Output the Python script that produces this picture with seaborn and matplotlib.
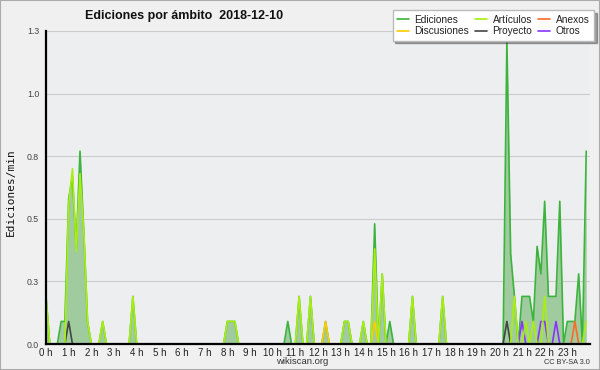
import numpy as np
import pandas as pd
import matplotlib
matplotlib.use("Agg")
import matplotlib.pyplot as plt
from matplotlib.patches import Rectangle
from matplotlib.lines import Line2D
import seaborn as sns

# 10-minute bins over the day (144 bins), values in edits/min
n_bins = 144

# non-zero bins: (bin index, edits/min)
ediciones_bins = [0, 4, 5, 6, 7, 8, 9, 10, 11, 15, 23, 48, 49, 50, 64, 67, 70, 74, 79, 80,
                  84, 87, 89, 91, 97, 105, 122, 123, 124, 126, 127, 128, 129, 130, 131,
                  132, 133, 134, 135, 136, 138, 139, 140, 141, 143]
ediciones_vals = [0.19, 0.09, 0.09, 0.58, 0.67, 0.38, 0.77, 0.45, 0.09, 0.09, 0.19, 0.09,
                  0.09, 0.09, 0.09, 0.19, 0.19, 0.09, 0.09, 0.09, 0.09, 0.48, 0.28, 0.09,
                  0.19, 0.19, 1.21, 0.36, 0.19, 0.19, 0.19, 0.19, 0.09, 0.39, 0.28, 0.57,
                  0.19, 0.19, 0.19, 0.57, 0.09, 0.09, 0.09, 0.28, 0.77]

articulos_bins = [0, 6, 7, 8, 9, 10, 11, 15, 23, 48, 49, 50, 67, 70, 79, 80, 84, 87, 89,
                  97, 105, 124, 127, 129, 132, 143]
articulos_vals = [0.19, 0.56, 0.70, 0.37, 0.68, 0.45, 0.09, 0.09, 0.19, 0.09, 0.09, 0.09,
                  0.19, 0.19, 0.09, 0.09, 0.09, 0.38, 0.28, 0.19, 0.19, 0.19, 0.09, 0.09,
                  0.19, 0.09]

anexos_bins = [140]
anexos_vals = [0.09]

discusiones_bins = [74, 87]
discusiones_vals = [0.09, 0.09]

proyecto_bins = [6, 122]
proyecto_vals = [0.09, 0.09]

otros_bins = [126, 131, 132, 135]
otros_vals = [0.09, 0.09, 0.09, 0.09]

y_ticks = [0.0, 0.25, 0.5, 0.75, 1.0, 1.25]
y_tick_labels = ["0.0", "0.3", "0.5", "0.8", "1.0", "1.3"]
x_tick_labels = [f"{h} h" for h in range(24)]


def series(bins, vals):
    s = np.zeros(n_bins)
    s[bins] = vals
    return s


hours = np.arange(n_bins) / 6.0
df = pd.DataFrame({
    "hora": hours,
    "Ediciones": series(ediciones_bins, ediciones_vals),
    "Artículos": series(articulos_bins, articulos_vals),
    "Anexos": series(anexos_bins, anexos_vals),
    "Discusiones": series(discusiones_bins, discusiones_vals),
    "Proyecto": series(proyecto_bins, proyecto_vals),
    "Otros": series(otros_bins, otros_vals),
})

colors = {
    "Ediciones": "#3cb43c",
    "Artículos": "#aaee11",
    "Anexos": "#ff6a26",
    "Discusiones": "#ffcc00",
    "Proyecto": "#444444",
    "Otros": "#8a33ff",
}

sns.set_style("white")
plt.rcParams["font.family"] = ["Liberation Sans", "DejaVu Sans"]

fig = plt.figure(figsize=(6, 3.7), dpi=100, facecolor="#f0f0f0")
# pixel-aligned axes box: x 46..590, y 31..344 (from top)
ax = fig.add_axes([46 / 600, 26 / 370, 544 / 600, 313 / 370])
ax.set_facecolor("#eceef0")

# filled area for the total
ax.fill_between(df["hora"], df["Ediciones"], color="#9fcb9f", lw=0, zorder=1)
sns.lineplot(data=df, x="hora", y="Ediciones", color=colors["Ediciones"], lw=1.2, ax=ax, zorder=3)
for name in ["Proyecto", "Otros", "Anexos", "Discusiones", "Artículos"]:
    sns.lineplot(data=df, x="hora", y=name, color=colors[name], lw=1.2, ax=ax, zorder=4)

ax.set_xlim(0, 24)
ax.set_ylim(0, 1.25)
ax.set_xlabel("")
ax.set_ylabel("")

ax.set_yticks(y_ticks)
ax.set_yticklabels(y_tick_labels)
ax.set_yticks(np.arange(0, 1.25, 0.0625), minor=True)
ax.set_xticks(np.arange(24))
ax.set_xticklabels(x_tick_labels)
ax.set_xticks(np.arange(0, 24.01, 0.2), minor=True)

ax.tick_params(axis="y", which="major", direction="out", length=4, width=0.9,
               labelsize=6.3, labelcolor="#444444", pad=1)
ax.tick_params(axis="y", which="minor", direction="out", length=2.5, width=0.9)
ax.tick_params(axis="x", which="both", direction="out", length=2.5, width=1.0,
               labelsize=7, labelcolor="#222222", pad=0.5)

ax.grid(axis="y", which="major", color="#cccccc", lw=0.8)
ax.set_axisbelow(True)
for side in ["top", "right"]:
    ax.spines[side].set_visible(False)
for side in ["left", "bottom"]:
    ax.spines[side].set_color("black")
    ax.spines[side].set_linewidth(1.6)
    ax.spines[side].set_zorder(6)

# legend in column order like the original
order = ["Ediciones", "Discusiones", "Artículos", "Proyecto", "Anexos", "Otros"]
handles = [Line2D([0], [0], color=colors[k], lw=1.2) for k in order]
leg = ax.legend(handles, order, ncol=3, loc="upper right",
                bbox_to_anchor=(594 / 600, 1 - 10 / 370), bbox_transform=fig.transFigure,
                borderaxespad=0, fontsize=7.3, handlelength=1.2, handletextpad=0.5,
                columnspacing=0.6, labelspacing=0.15, borderpad=0.45,
                fancybox=False, shadow=True, framealpha=1, edgecolor="#bbbbbb")
leg.set_zorder(10)
for t in leg.get_texts():
    t.set_color("#222222")

fig.text(85 / 600, 1 - 16 / 370, "Ediciones por ámbito  2018-12-10", fontsize=9,
         fontweight="bold", ha="left", va="center", color="#111111")
fig.text(11 / 600, 1 - 192 / 370, "Ediciones/min", rotation=90, fontsize=8,
         family="DejaVu Sans Mono", ha="center", va="center", color="#111111")
fig.text(302 / 600, 1 - 361.5 / 370, "wikiscan.org", fontsize=6.8, ha="center",
         va="center", color="#333333")
fig.text(590 / 600, 1 - 362.5 / 370, "CC BY-SA 3.0", fontsize=5.3, ha="right",
         va="center", color="#333333")

fig.patches.append(Rectangle((0, 0), 1, 1, transform=fig.transFigure, fill=False,
                             edgecolor="#aaaaaa", lw=1.5))

fig.savefig("out.png", dpi=100, facecolor=fig.get_facecolor())
